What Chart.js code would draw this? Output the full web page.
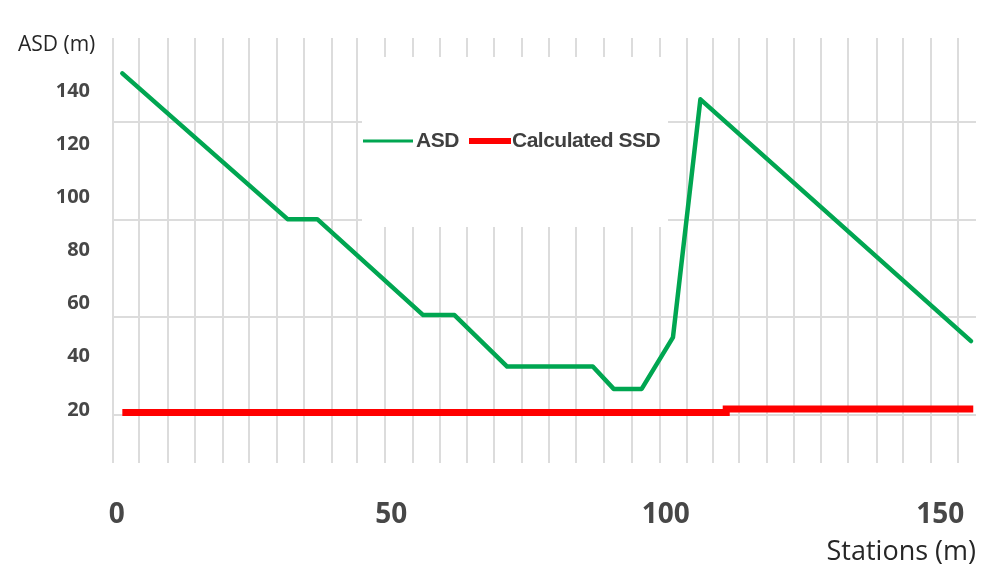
<!DOCTYPE html>
<html>
<head>
<meta charset="utf-8">
<script src="https://cdn.jsdelivr.net/npm/chart.js@4/dist/chart.umd.min.js"></script>
<style>
  html, body { margin: 0; padding: 0; background: #ffffff; }
  canvas { display: block; }
</style>
</head>
<body>
<canvas id="sightChart" width="981" height="569"></canvas>
<script>
// Available sight distance along the alignment (station in m, ASD in m)
const asdStations = [1, 31.1, 36.5, 55.8, 61.5, 71.1, 86.7, 90.5, 95.6, 101.3, 106.3, 155.6];
const asdValues   = [146.7, 91.8, 91.8, 55.7, 55.7, 36.3, 36.3, 27.9, 27.9, 47.3, 136.9, 45.9];

// Calculated stopping sight distance, stepping up near station 111
const ssdStations = [1, 111, 111, 156];
const ssdValues   = [19.0, 19.0, 20.3, 20.3];

// Labelled ticks
const xTickValues = [0, 50, 100, 150];
const yTickValues = [20, 40, 60, 80, 100, 120, 140];

// Unlabelled grid lines
const xGridValues = [-0.7, 4, 9.3, 14.2, 19.3, 24.1, 29.2, 34.1, 39.2, 43.8, 48.8, 53.9, 58.9,
                     63.8, 68.7, 73.8, 78.7, 83.6, 88.7, 93.8, 98.9, 103.9, 108.6, 113.4, 118.5,
                     123.4, 128.3, 133.2, 138.5, 143.2, 148.3, 153.3];
const yGridValues = [18.1, 55.0, 91.5, 128.4];

const X_MIN = -0.7, X_MAX = 156.5;
const Y_MIN = 0, Y_MAX = 160;

const toPoints = (xs, ys) => xs.map((x, i) => ({ x: x, y: ys[i] }));
const setTicks = values => axis => { axis.ticks = values.map(v => ({ value: v })); };
// keep the plot area flush with the fixed axis sizes
const fixSize = (w, h) => axis => {
  if (w !== null) axis.width = w;
  if (h !== null) axis.height = h;
  axis.paddingLeft = axis.paddingRight = axis.paddingTop = axis.paddingBottom = 0;
};

const GRID_COLOR = '#dcdcdc';
const LABEL_COLOR = '#474747';
const TITLE_COLOR = '#262626';

// White legend panel, caption for the value axis and the legend itself
const decorations = {
  id: 'decorations',
  beforeDatasetsDraw(chart) {
    const ctx = chart.ctx;
    ctx.save();
    ctx.fillStyle = '#ffffff';
    ctx.fillRect(362, 57, 306, 170);
    ctx.restore();
  },
  afterDraw(chart) {
    const ctx = chart.ctx;
    const ds = chart.data.datasets;
    ctx.save();

    ctx.font = '21px "Open Sans", sans-serif';
    ctx.fillStyle = TITLE_COLOR;
    ctx.textAlign = 'left';
    ctx.textBaseline = 'middle';
    ctx.fillText('ASD (m)', 18, 45);

    // legend entries
    const legendY = 141;
    const items = [
      { sx0: 363, sx1: 413, tx: 416, width: 3 },
      { sx0: 469, sx1: 511, tx: 512, width: 6 }
    ];
    ctx.font = 'bold 21px "Liberation Sans", Arial, sans-serif';
    if ('letterSpacing' in ctx) ctx.letterSpacing = '-0.5px';
    items.forEach((it, i) => {
      ctx.beginPath();
      ctx.strokeStyle = ds[i].borderColor;
      ctx.lineWidth = it.width;
      ctx.lineCap = 'butt';
      ctx.moveTo(it.sx0, legendY);
      ctx.lineTo(it.sx1, legendY);
      ctx.stroke();
      ctx.fillStyle = '#3f3f3f';
      ctx.fillText(ds[i].label, it.tx, legendY);
    });
    ctx.restore();
  }
};

new Chart(document.getElementById('sightChart'), {
  type: 'line',
  data: {
    datasets: [
      {
        label: 'ASD',
        data: toPoints(asdStations, asdValues),
        borderColor: '#00a651',
        borderWidth: 4.5,
        borderJoinStyle: 'round',
        borderCapStyle: 'round',
        pointRadius: 0,
        tension: 0,
        fill: false
      },
      {
        label: 'Calculated SSD',
        data: toPoints(ssdStations, ssdValues),
        borderColor: '#ff0000',
        borderWidth: 7,
        borderCapStyle: 'butt',
        pointRadius: 0,
        tension: 0,
        fill: false
      }
    ]
  },
  options: {
    responsive: false,
    animation: false,
    devicePixelRatio: 1,
    layout: { padding: { top: 38, right: 5, left: 0, bottom: 0 } },
    plugins: {
      legend: { display: false },
      tooltip: { enabled: false }
    },
    scales: {
      x: {
        type: 'linear',
        position: 'bottom',
        min: X_MIN, max: X_MAX,
        afterBuildTicks: setTicks(xTickValues),
        afterFit: fixSize(null, 106),
        grid: { display: false, drawTicks: false },
        border: { display: false },
        ticks: {
          padding: 35,
          color: LABEL_COLOR,
          maxRotation: 0,
          font: { family: '"Open Sans", sans-serif', size: 28, weight: 'bold' }
        },
        title: {
          display: true,
          text: 'Stations (m)',
          align: 'end',
          color: TITLE_COLOR,
          padding: { top: 0, bottom: 0 },
          font: { family: '"Open Sans", sans-serif', size: 27 }
        }
      },
      xGrid: {
        type: 'linear',
        position: 'bottom',
        min: X_MIN, max: X_MAX,
        afterBuildTicks: setTicks(xGridValues),
        afterFit: fixSize(null, 0),
        grid: { color: GRID_COLOR, lineWidth: 2, drawTicks: false },
        border: { display: false },
        ticks: { display: false }
      },
      y: {
        type: 'linear',
        position: 'left',
        min: Y_MIN, max: Y_MAX,
        afterBuildTicks: setTicks(yTickValues),
        afterFit: fixSize(113, null),
        grid: { display: false, drawTicks: false },
        border: { display: false },
        ticks: {
          padding: 23,
          color: LABEL_COLOR,
          font: { family: '"Open Sans", sans-serif', size: 20, weight: 'bold' }
        }
      },
      yGrid: {
        type: 'linear',
        position: 'left',
        min: Y_MIN, max: Y_MAX,
        afterBuildTicks: setTicks(yGridValues),
        afterFit: fixSize(0, null),
        grid: { color: GRID_COLOR, lineWidth: 2, drawTicks: false },
        border: { display: false },
        ticks: { display: false }
      }
    }
  },
  plugins: [decorations]
});
</script>
</body>
</html>
